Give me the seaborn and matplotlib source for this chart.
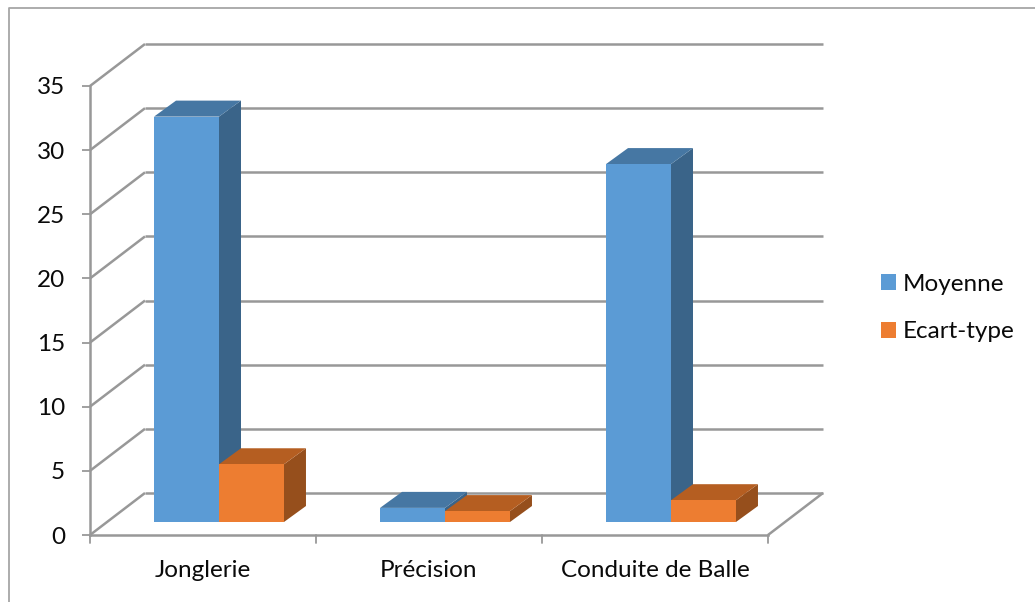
import matplotlib
matplotlib.use("Agg")
import matplotlib.pyplot as plt
import pandas as pd
import seaborn as sns
from matplotlib.lines import Line2D
from matplotlib.patches import Polygon
from matplotlib.transforms import Affine2D, IdentityTransform

categories = ["Jonglerie", "Précision", "Conduite de Balle"]
moyenne = [31.6, 1.1, 27.9]
ecart_type = [4.5, 0.85, 1.7]
series_names = ["Moyenne", "Ecart-type"]
y_ticks = [0, 5, 10, 15, 20, 25, 30, 35]

FRONT = {"Moyenne": "#5B9BD5", "Ecart-type": "#ED7D31"}
TOP = {"Moyenne": "#4677A3", "Ecart-type": "#B55E21"}
SIDE = {"Moyenne": "#3A6489", "Ecart-type": "#964F1C"}
GRID = "#989898"
INK = "#0A0A0A"
FONT_SIZE = 17.5

W, H = 1035, 602
WALL_DX, WALL_DY = 55, 42      # depth of the chart box, in pixels
BAR_DX, BAR_DY = 16, 13        # front of the bars relative to the front plane
CUBE_DX, CUBE_DY = 22, 16      # depth of each bar

sns.set_theme(style="white")
plt.rcParams["font.family"] = ["Lato", "DejaVu Sans"]

df = pd.DataFrame({
    "categorie": categories * 2,
    "valeur": moyenne + ecart_type,
    "serie": [series_names[0]] * 3 + [series_names[1]] * 3,
})

fig = plt.figure(figsize=(W / 100, H / 100), dpi=100, facecolor="white")
ax = fig.add_axes([90 / W, (H - 535) / H, 678 / W, 449 / H])
ax.patch.set_alpha(0)

sns.barplot(data=df, x="categorie", y="valeur", hue="serie", palette=FRONT,
            saturation=1, width=0.575, gap=0, linewidth=0, ax=ax)
ax.set_xlim(-0.5, 2.5)
ax.set_ylim(0, 35)
ax.set_xlabel("")
ax.set_ylabel("")
ax.set_yticks(y_ticks)

# Back wall and left wall lines
back = ax.transData + Affine2D().translate(WALL_DX, WALL_DY)
line_kw = dict(color=GRID, lw=1.8, clip_on=False, zorder=1, solid_capstyle="butt")
for v in y_ticks:
    ax.plot([-0.5, 2.5], [v, v], transform=back, **line_kw)
    x0, y0 = ax.transData.transform((-0.5, v))
    ax.add_line(Line2D([x0, x0 + WALL_DX], [y0, y0 + WALL_DY],
                       transform=IdentityTransform(), **line_kw))
x1, y1 = ax.transData.transform((2.5, 0))
ax.add_line(Line2D([x1, x1 + WALL_DX], [y1, y1 + WALL_DY],
                   transform=IdentityTransform(), **line_kw))

# Turn each flat bar into a box: shifted front face plus top and side faces
shift = ax.transData + Affine2D().translate(BAR_DX, BAR_DY)
z = 3.0
for container, name in zip(ax.containers, series_names):
    for bar in container:
        (xa, ya), (xb, yb) = shift.transform(
            [(bar.get_x(), 0), (bar.get_x() + bar.get_width(), bar.get_height())])
        top = [(xa, yb), (xb, yb), (xb + CUBE_DX, yb + CUBE_DY), (xa + CUBE_DX, yb + CUBE_DY)]
        side = [(xb, ya), (xb + CUBE_DX, ya + CUBE_DY), (xb + CUBE_DX, yb + CUBE_DY), (xb, yb)]
        for verts, colours in ((side, SIDE), (top, TOP)):
            ax.add_patch(Polygon(verts, closed=True, facecolor=colours[name], edgecolor="none",
                                 transform=IdentityTransform(), clip_on=False, zorder=z))
        bar.set_transform(shift)
        bar.set_clip_on(False)
        bar.set_zorder(z + 0.1)
    z += 1

for s in ("top", "right"):
    ax.spines[s].set_visible(False)
for s in ("left", "bottom"):
    ax.spines[s].set_color(GRID)
    ax.spines[s].set_linewidth(1.8)
    ax.spines[s].set_zorder(2)

ax.tick_params(axis="y", left=True, length=6, width=1.3, color=GRID, pad=12,
               labelsize=FONT_SIZE, labelcolor=INK)
ax.tick_params(axis="x", bottom=False, pad=12, labelsize=FONT_SIZE, labelcolor=INK)
for pos in (-0.5, 0.5, 1.5, 2.5):
    ax.plot([pos, pos], [0, -8 / (449 / 35)], color=GRID, lw=1.3, clip_on=False, zorder=2)

handles, labels = ax.get_legend_handles_labels()
ax.legend(handles, labels, loc="center left", bbox_to_anchor=(881 / W, (H - 308) / H),
          bbox_transform=fig.transFigure, frameon=False, fontsize=FONT_SIZE,
          borderaxespad=0, borderpad=0,
          handlelength=0.62, handleheight=0.62, handletextpad=0.29, labelspacing=1.1,
          labelcolor=INK)

# Outer chart frame, open at the right and bottom
frame_kw = dict(color="#A6A6A6", lw=1.3, transform=IdentityTransform())
fig.add_artist(Line2D([9, 9, W], [0, H - 8, H - 8], **frame_kw))

fig.savefig("out.png", dpi=100)
